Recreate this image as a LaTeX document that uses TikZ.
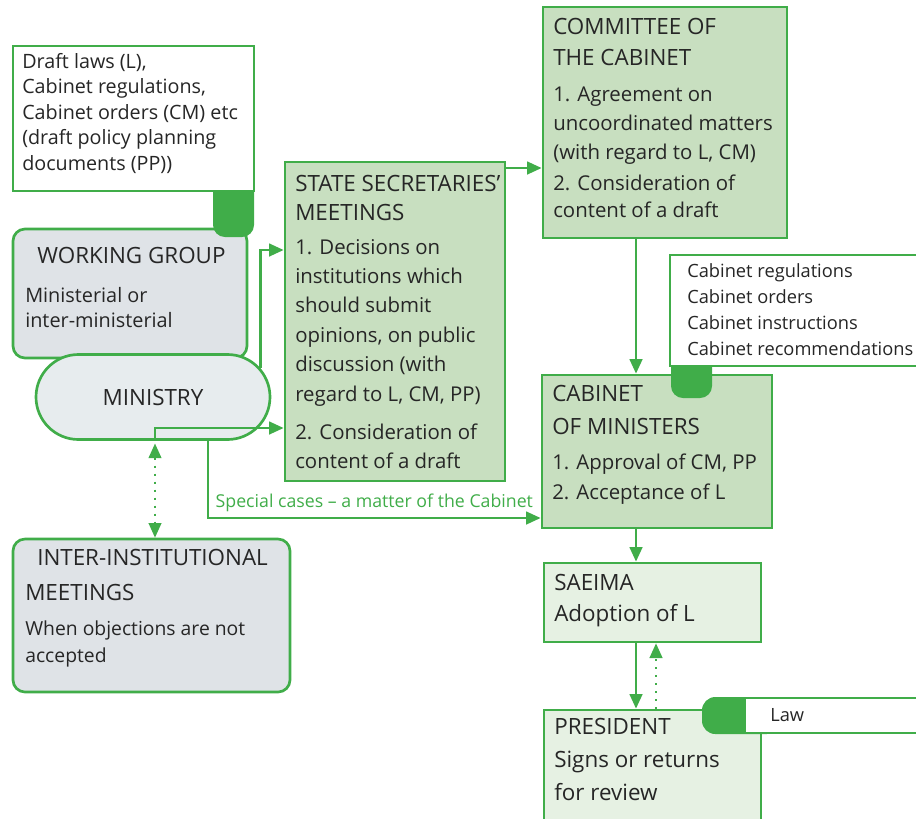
\documentclass[tikz,border=0pt]{standalone}
\usepackage{fontspec}
\setmainfont{Open Sans}
\usetikzlibrary{fit,arrows.meta,shapes.misc}
\definecolor{lg}{RGB}{64,173,73}
\definecolor{fillg}{RGB}{200,223,192}
\definecolor{fillgl}{RGB}{230,241,227}
\definecolor{fillgray}{RGB}{223,227,231}
\definecolor{fillmin}{RGB}{231,236,238}
\definecolor{txt}{RGB}{38,38,38}
\newcommand{\fhead}[1]{\fontsize{16.8pt}{#1}\selectfont}
\newcommand{\fmain}[1]{\fontsize{15.3pt}{#1}\selectfont}
\newcommand{\fsmall}[2]{\fontsize{#1}{#2}\selectfont}
\begin{document}
\begin{tikzpicture}[x=0.75pt,y=-0.75pt,
  box/.style={draw=lg, line width=2pt, inner sep=0pt},
  tx/.style={anchor=base west, align=left, inner sep=0pt, text=txt},
  arr/.style={draw=lg, line width=2pt, -{Triangle[length=11pt,width=9.5pt]}},
  dotline/.style={draw=lg, line width=1.6pt, dash pattern=on 1.6pt off 4.4pt},
]
\useasboundingbox (0,0) rectangle (916,818);
% left column
\node[box, fill=fillgray, rounded corners=9pt, fit={(13,229)(247,358)}] (wg) {};
\fill[lg, rounded corners=9pt] (213,170) rectangle (254,237);
\node[box, fill=white, fit={(13,46)(254,191)}] (draft) {};
\node[box, fill=fillmin, rounded rectangle, minimum width=175.5pt, minimum height=63.75pt, font=\fhead{20pt}, text=txt] (min) at (153,397) {MINISTRY};
\node[box, fill=fillgray, rounded corners=9pt, fit={(13,539)(290,692)}] (inter) {};
% middle / right
\node[box, fill=fillg, fit={(285,162)(505,481)}] (ss) {};
\node[box, fill=fillg, fit={(543,7)(787,238)}] (comm) {};
\node[box, fill=fillg, fit={(542,375)(772,528)}] (cab) {};
\fill[lg, rounded corners=9pt] (671,340) rectangle (712,398);
\node[box, fill=white, fit={(670,255)(930,366)}] (regs) {};
\node[box, fill=fillgl, fit={(544,563)(761,642)}] (saeima) {};
\node[box, fill=fillgl, fit={(544,710)(761,830)}] (pres) {};
\fill[lg, rounded corners=10pt] (702,697) rectangle (780,734);
\node[box, fill=white, fit={(745,698)(930,733)}] (law) {};
% texts (coordinates = baseline of the last line)
\node[tx, font=\fsmall{14.8pt}{19.1pt}] (tdraft) at (22,170) {Draft laws (L),\\Cabinet regulations,\\Cabinet orders (CM) etc\\(draft policy planning\\documents (PP))};
\node[tx, font=\fhead{20pt}] (twgh) at (37,263) {WORKING GROUP};
\node[tx, font=\fsmall{14.9pt}{18.75pt}] (twgb) at (25,327) {Ministerial or\\inter-ministerial};
\node[tx, font=\fhead{21.75pt}] (tssh) at (295,220) {STATE SECRETARIES’\\MEETINGS};
\node[tx, font=\fmain{22.05pt}] (tssb) at (295,401) {1. Decisions on\\institutions which\\should submit\\opinions, on public\\discussion (with\\regard to L, CM, PP)};
\node[tx, font=\fmain{21.75pt}] (tss2) at (295,468) {2. Consideration of\\content of a draft};
\node[tx, font=\fhead{23.25pt}] (tcoh) at (553,65) {COMMITTEE OF\\THE CABINET};
\node[tx, font=\fmain{21.75pt}] (tcob) at (553,159) {1. Agreement on\\uncoordinated matters\\(with regard to L, CM)};
\node[tx, font=\fmain{20.25pt}] (tco2) at (553,217) {2. Consideration of\\content of a draft};
\node[tx, font=\fsmall{13.7pt}{19.3pt}] (tregs) at (687,355) {Cabinet regulations\\Cabinet orders\\Cabinet instructions\\Cabinet recommendations};
\node[tx, font=\fhead{24.75pt}] (tcabh) at (552,434) {CABINET\\OF MINISTERS};
\node[tx, font=\fmain{22.5pt}] (tcabb) at (552,499) {1. Approval of CM, PP\\2. Acceptance of L};
\node[tx, font=\fhead{23.25pt}] (tsae) at (554,621) {SAEIMA\\Adoption of L};
\node[tx, font=\fhead{24.4pt}] (tpres) at (554,800) {PRESIDENT\\Signs or returns\\for review};
\node[tx, font=\fsmall{13.7pt}{16pt}] (tlaw) at (770,721) {Law};
\node[tx, font=\fhead{20pt}] (tinh1) at (37,565) {INTER-INSTITUTIONAL};
\node[tx, font=\fhead{20pt}] (tinh2) at (25,600) {MEETINGS};
\node[tx, font=\fsmall{14.5pt}{20.25pt}] (tinb) at (25,662) {When objections are not\\accepted};
% connectors
\draw[arr] (min.15) |- (ss.west |- 0,250);
\draw[arr] ([xshift=1.5pt]min.south) |- (ss.west |- 0,428);
\draw[dotline, {Triangle[length=11pt,width=9.5pt]}-{Triangle[length=11pt,width=9.5pt]}] ([xshift=1.5pt,yshift=-2pt]min.south) -- ([xshift=1.5pt]min.south |- inter.north);
\draw[arr] ([xshift=41.25pt]min.south) |- (cab.west |- 0,518)
  node[pos=0.75, above=0pt, font=\fsmall{13.3pt}{16pt}, text=lg] (lspecial) {Special cases – a matter of the Cabinet};
\draw[arr] (ss.east |- 0,168) -- (comm.west |- 0,168);
\draw[arr] (comm.south -| 636,0) -- (cab.north -| 636,0);
\draw[arr] (cab.south -| 636,0) -- (saeima.north -| 636,0);
\draw[arr] (saeima.south -| 636,0) -- (pres.north -| 636,0);
\draw[dotline, -{Triangle[length=11pt,width=9.5pt]}] (pres.north -| 656,0) -- (saeima.south -| 656,0);
\end{tikzpicture}
\end{document}
